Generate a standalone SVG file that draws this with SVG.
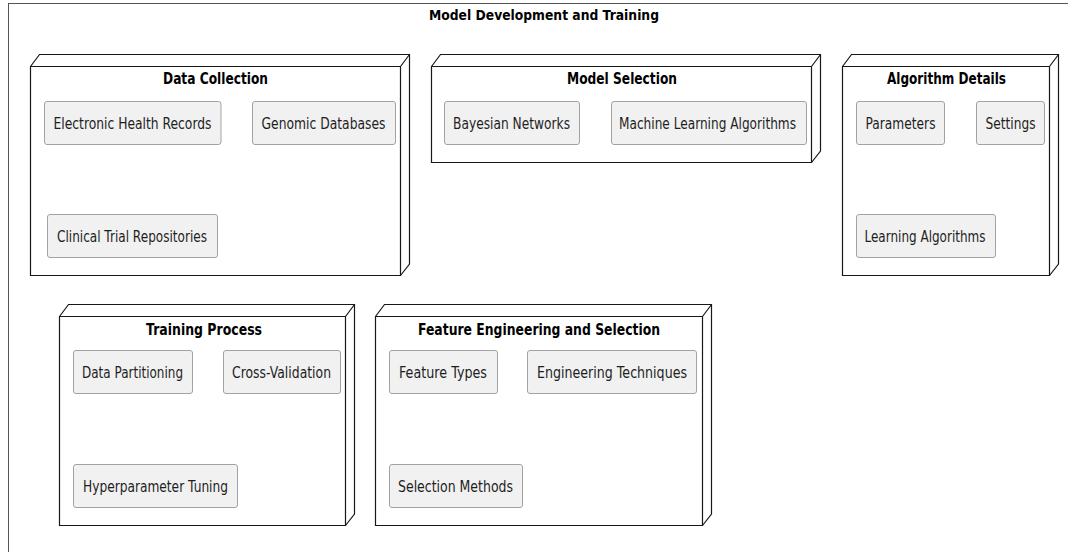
<svg xmlns="http://www.w3.org/2000/svg" width="1068" height="552" viewBox="0 0 1068 552">
  <style>
    .frame { fill: #ffffff; stroke: #555555; stroke-width: 1; }
    .node { fill: #ffffff; stroke: #181818; stroke-width: 1.2; stroke-linejoin: miter; }
    .edge3d { fill: none; stroke: #181818; stroke-width: 1.2; }
    .box { fill: #f1f1f1; stroke: #a2a2a2; stroke-width: 1; }
    .ftitle { font-family: "DejaVu Sans", sans-serif; font-size: 14px; font-weight: bold; fill: #000000; text-anchor: middle; }
    .ntitle { font-family: "DejaVu Sans", sans-serif; font-size: 15.5px; font-weight: bold; fill: #000000; text-anchor: middle; }
    .label { font-family: "DejaVu Sans", sans-serif; font-size: 15.5px; fill: #1e1e1e; text-anchor: middle; }
  </style>

  <rect width="1068" height="552" fill="#ffffff"/>

  <!-- outer package frame -->
  <g id="model-development-and-training">
    <rect class="frame" x="8.5" y="3.5" width="1080" height="560"/>
    <text class="ftitle" x="544" y="20" textLength="230" lengthAdjust="spacingAndGlyphs">Model Development and Training</text>
  </g>

  <!-- Data Collection -->
  <g id="data-collection">
    <path class="node" d="M30.5,66.5 L39.5,54.5 L409.5,54.5 L409.5,264 L400.5,275.5 L30.5,275.5 Z"/>
    <path class="edge3d" d="M30.5,66.5 L400.5,66.5 L400.5,275.5 M400.5,66.5 L409.5,54.5"/>
    <text class="ntitle" x="215.5" y="84" textLength="105" lengthAdjust="spacingAndGlyphs">Data Collection</text>
    <g id="electronic-health-records">
      <rect class="box" x="44.5" y="101.5" width="176.5" height="43" rx="2.5"/>
      <text class="label" x="132.5" y="128.5" textLength="158" lengthAdjust="spacingAndGlyphs">Electronic Health Records</text>
    </g>
    <g id="genomic-databases">
      <rect class="box" x="252.5" y="101.5" width="143" height="43" rx="2.5"/>
      <text class="label" x="323.5" y="128.5" textLength="124" lengthAdjust="spacingAndGlyphs">Genomic Databases</text>
    </g>
    <g id="clinical-trial-repositories">
      <rect class="box" x="47.5" y="214.5" width="170" height="43" rx="2.5"/>
      <text class="label" x="132" y="241.5" textLength="150" lengthAdjust="spacingAndGlyphs">Clinical Trial Repositories</text>
    </g>
  </g>

  <!-- Model Selection -->
  <g id="model-selection">
    <path class="node" d="M431.5,66.5 L440.5,54.5 L820.5,54.5 L820.5,151 L811.5,162.5 L431.5,162.5 Z"/>
    <path class="edge3d" d="M431.5,66.5 L811.5,66.5 L811.5,162.5 M811.5,66.5 L820.5,54.5"/>
    <text class="ntitle" x="622" y="84" textLength="110" lengthAdjust="spacingAndGlyphs">Model Selection</text>
    <g id="bayesian-networks">
      <rect class="box" x="444.5" y="101.5" width="135" height="43" rx="2.5"/>
      <text class="label" x="511.5" y="128.5" textLength="117" lengthAdjust="spacingAndGlyphs">Bayesian Networks</text>
    </g>
    <g id="machine-learning-algorithms">
      <rect class="box" x="611.5" y="101.5" width="195" height="43" rx="2.5"/>
      <text class="label" x="707.5" y="128.5" textLength="177" lengthAdjust="spacingAndGlyphs">Machine Learning Algorithms</text>
    </g>
  </g>

  <!-- Algorithm Details -->
  <g id="algorithm-details">
    <path class="node" d="M842.5,66.5 L851.5,54.5 L1058.5,54.5 L1058.5,264 L1049.5,275.5 L842.5,275.5 Z"/>
    <path class="edge3d" d="M842.5,66.5 L1049.5,66.5 L1049.5,275.5 M1049.5,66.5 L1058.5,54.5"/>
    <text class="ntitle" x="946.5" y="84" textLength="119" lengthAdjust="spacingAndGlyphs">Algorithm Details</text>
    <g id="parameters">
      <rect class="box" x="856.5" y="101.5" width="88" height="43" rx="2.5"/>
      <text class="label" x="900.5" y="128.5" textLength="70" lengthAdjust="spacingAndGlyphs">Parameters</text>
    </g>
    <g id="settings">
      <rect class="box" x="976.5" y="101.5" width="68" height="43" rx="2.5"/>
      <text class="label" x="1010.5" y="128.5" textLength="50" lengthAdjust="spacingAndGlyphs">Settings</text>
    </g>
    <g id="learning-algorithms">
      <rect class="box" x="856.5" y="214.5" width="139" height="43" rx="2.5"/>
      <text class="label" x="925" y="241.5" textLength="121" lengthAdjust="spacingAndGlyphs">Learning Algorithms</text>
    </g>
  </g>

  <!-- Training Process -->
  <g id="training-process">
    <path class="node" d="M59.5,316.5 L68.5,304.5 L354.5,304.5 L354.5,514 L345.5,525.5 L59.5,525.5 Z"/>
    <path class="edge3d" d="M59.5,316.5 L345.5,316.5 L345.5,525.5 M345.5,316.5 L354.5,304.5"/>
    <text class="ntitle" x="204" y="334.5" textLength="116" lengthAdjust="spacingAndGlyphs">Training Process</text>
    <g id="data-partitioning">
      <rect class="box" x="73.5" y="350.5" width="119" height="43" rx="2.5"/>
      <text class="label" x="132.5" y="378" textLength="101" lengthAdjust="spacingAndGlyphs">Data Partitioning</text>
    </g>
    <g id="cross-validation">
      <rect class="box" x="223.5" y="350.5" width="117" height="43" rx="2.5"/>
      <text class="label" x="281.5" y="378" textLength="99" lengthAdjust="spacingAndGlyphs">Cross-Validation</text>
    </g>
    <g id="hyperparameter-tuning">
      <rect class="box" x="73.5" y="464.5" width="164" height="43" rx="2.5"/>
      <text class="label" x="155.5" y="491.5" textLength="145" lengthAdjust="spacingAndGlyphs">Hyperparameter Tuning</text>
    </g>
  </g>

  <!-- Feature Engineering and Selection -->
  <g id="feature-engineering-and-selection">
    <path class="node" d="M375.5,316.5 L384.5,304.5 L711.5,304.5 L711.5,514 L702.5,525.5 L375.5,525.5 Z"/>
    <path class="edge3d" d="M375.5,316.5 L702.5,316.5 L702.5,525.5 M702.5,316.5 L711.5,304.5"/>
    <text class="ntitle" x="539" y="334.5" textLength="242" lengthAdjust="spacingAndGlyphs">Feature Engineering and Selection</text>
    <g id="feature-types">
      <rect class="box" x="389.5" y="350.5" width="108" height="43" rx="2.5"/>
      <text class="label" x="443" y="378" textLength="88" lengthAdjust="spacingAndGlyphs">Feature Types</text>
    </g>
    <g id="engineering-techniques">
      <rect class="box" x="527.5" y="350.5" width="169" height="43" rx="2.5"/>
      <text class="label" x="612" y="378" textLength="150" lengthAdjust="spacingAndGlyphs">Engineering Techniques</text>
    </g>
    <g id="selection-methods">
      <rect class="box" x="389.5" y="464.5" width="133" height="43" rx="2.5"/>
      <text class="label" x="455.5" y="491.5" textLength="115" lengthAdjust="spacingAndGlyphs">Selection Methods</text>
    </g>
  </g>

  <!-- no links between the nodes -->
  <g id="connectors"/>
</svg>
